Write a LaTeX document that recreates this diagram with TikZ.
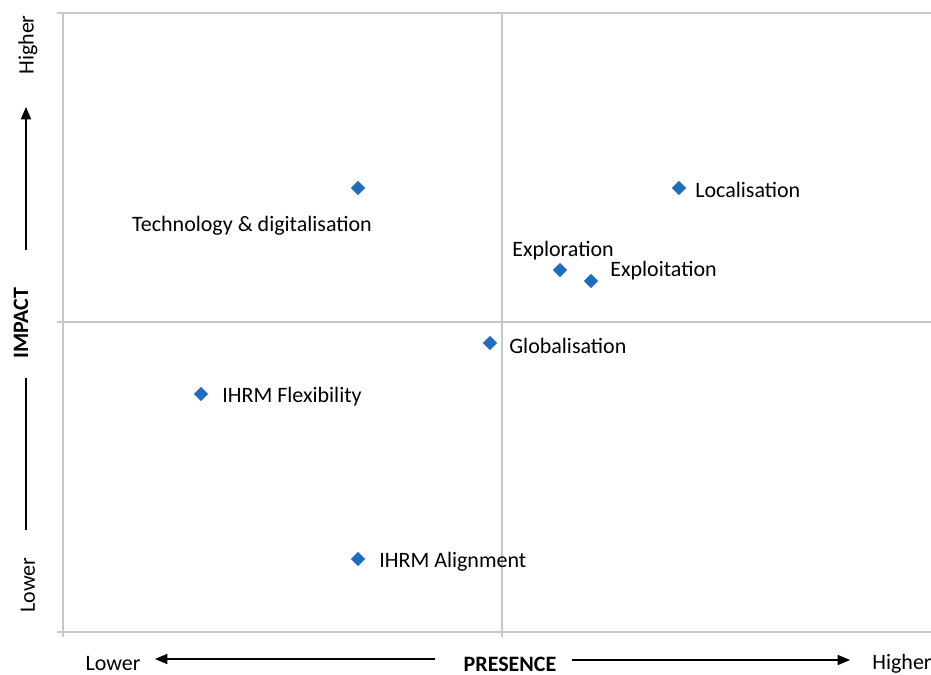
\documentclass[tikz,border=0pt]{standalone}
\usepackage{fontspec}
\setmainfont{Carlito}
\usepackage{xcolor}
\usetikzlibrary{arrows,shapes.geometric}

\definecolor{markblue}{HTML}{1F6DC0}
\definecolor{gridgray}{HTML}{C8C8C8}

\begin{document}
\begin{tikzpicture}[x=0.6pt,y=-0.6pt,font=\fontsize{13.2}{15}\selectfont,
		grid/.style={draw=gridgray,line width=0.9pt},
		marker/.style={diamond,fill=markblue,inner sep=0pt,minimum size=8.8pt},
		pointlabel/.style={inner sep=0pt},
		axislabel/.style={inner sep=0pt,rotate=90},
		axisarrow/.style={-triangle 45,line width=0.7pt}]
		\useasboundingbox (0,0) rectangle (931,675);

		% frame of the chart
		\coordinate (TL) at (63,13);
		\coordinate (BL) at (63,632);
		\coordinate (MT) at (502,13);
		\coordinate (MB) at (502,637);
		\draw[grid] (57,13) -- (931,13);
		\draw[grid] (57,322) -- (931,322);
		\draw[grid] (57,632) -- (931,632);
		\draw[grid] (TL) -- (63,637);
		\draw[grid] (MT) -- (MB);

		% data points
		\node[marker] (tech) at (358,188) {};
		\node[marker] (loc) at (679,188) {};
		\node[marker] (explor) at (560,270) {};
		\node[marker] (exploi) at (591,281) {};
		\node[marker] (glob) at (490,343) {};
		\node[marker] (flex) at (201,394) {};
		\node[marker] (align) at (358,559) {};

		\node[pointlabel] at (252,226) {Technology \& digitalisation};
		\node[pointlabel,anchor=west] at (695,190) {Localisation};
		\node[pointlabel] at (563,251) {Exploration};
		\node[pointlabel,anchor=west] at (610,271) {Exploitation};
		\node[pointlabel,anchor=west] at (509,346) {Globalisation};
		\node[pointlabel,anchor=west] at (222,397) {IHRM Flexibility};
		\node[pointlabel,anchor=west] at (379,562) {IHRM Alignment};

		% impact axis
		\node[axislabel] (yhigh) at (28,45) {Higher};
		\node[axislabel,font=\fontsize{13.2}{15}\selectfont\bfseries] (impact) at (21,323) {IMPACT};
		\node[axislabel] (ylow) at (28,585) {Lower};
		\coordinate (ya) at (26,250);
		\coordinate (yb) at (26,107);
		\coordinate (yc) at (26,378);
		\coordinate (yd) at (26,530);
		\draw[axisarrow] (ya) -- (yb);
		\draw[line width=0.7pt] (yc) -- (yd);

		% presence axis
		\node[pointlabel] (xlow) at (113,664) {Lower};
		\node[pointlabel,font=\fontsize{13.2}{15}\selectfont\bfseries] (presence) at (510,664) {PRESENCE};
		\node[pointlabel] (xhigh) at (902,664) {Higher};
		\coordinate (xa) at (435,659);
		\coordinate (xb) at (155,659);
		\coordinate (xc) at (572,660);
		\coordinate (xd) at (850,660);
		\draw[axisarrow] (xa) -- (xb);
		\draw[axisarrow] (xc) -- (xd);
	\end{tikzpicture}
\end{document}
